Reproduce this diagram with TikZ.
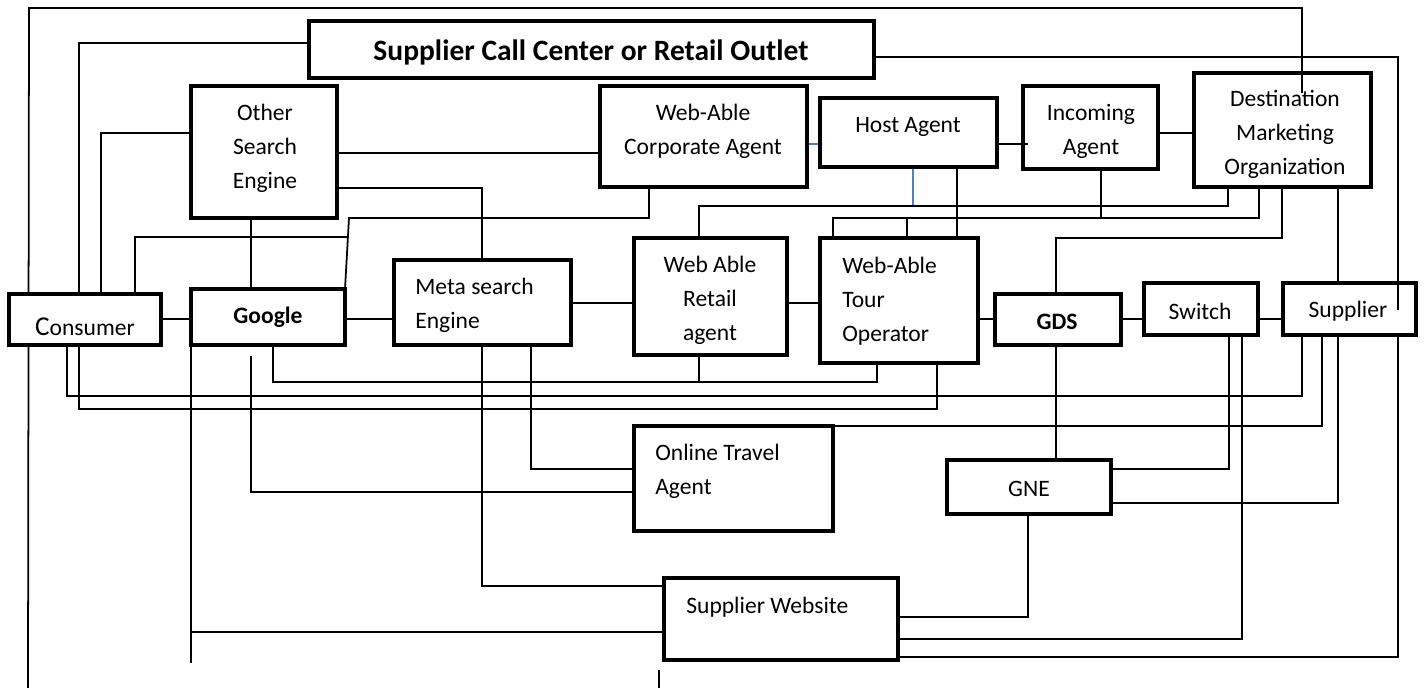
\documentclass[tikz,border=0pt]{standalone}
\usepackage{fontspec}
\setmainfont{Carlito}
\usetikzlibrary{fit,backgrounds}
\definecolor{lnblue}{HTML}{4F81BD}
\begin{document}
\begin{tikzpicture}[x=0.02cm,y=-0.02cm,
  box/.style={draw=black,line width=2.5pt,fill=white,inner sep=0pt,outer sep=0pt},
  con/.style={draw=black,line width=1pt},
  bcon/.style={draw=lnblue,line width=1pt},
  lbl/.style={font=\fontsize{13.4pt}{19.3pt}\selectfont,align=center,inner sep=0pt},
  lbll/.style={lbl,align=left,anchor=west},
  blbl/.style={font=\bfseries\fontsize{13.4pt}{19.3pt}\selectfont,inner sep=0pt},
  ]
\useasboundingbox (0,0) rectangle (1427,688);

% boxes
\node[box,fit={(309,21)(874,78)}] (scc) {};
\node[box,fit={(191,86)(337,218)}] (ose) {};
\node[box,fit={(600,86)(807,187)}] (waca) {};
\node[box,fit={(820,98)(997,167)}] (host) {};
\node[box,fit={(1023,86)(1158,169)}] (inc) {};
\node[box,fit={(1194,73)(1371,187)}] (dmo) {};
\node[box,fit={(9,294)(161,345)}] (cons) {};
\node[box,fit={(191,289)(345,345)}] (goog) {};
\node[box,fit={(394,260)(571,345)}] (meta) {};
\node[box,fit={(634,238)(787,355)}] (war) {};
\node[box,fit={(820,238)(978,363)}] (wato) {};
\node[box,fit={(995,294)(1121,345)}] (gds) {};
\node[box,fit={(1144,283)(1258,335)}] (swi) {};
\node[box,fit={(1283,283)(1416,335)}] (sup) {};
\node[box,fit={(634,426)(833,531)}] (ota) {};
\node[box,fit={(947,460)(1111,514)}] (gne) {};
\node[box,fit={(664,578)(898,660)}] (web) {};

% labels
\node[font=\bfseries\fontsize{16.8pt}{20pt}\selectfont,inner sep=0pt] (sccT) at (591,52) {Supplier Call Center or Retail Outlet};
\node[lbl] (oseT) at (265,148) {Other\\Search\\Engine};
\node[lbl] (wacaT) at (703,131) {Web-Able\\Corporate Agent};
\node[lbl] (hostT) at (908,127) {Host Agent};
\node[lbl] (incT) at (1091,131) {Incoming\\Agent};
\node[lbl] (dmoT) at (1285,134) {Destination\\Marketing\\Organization};
\node[lbl] (consT) at (85,327) {{\fontsize{15.5pt}{19pt}\selectfont C}onsumer};
\node[blbl] (googT) at (268,317) {Google};
\node[lbll] (metaT) at (415,305) {Meta search\\Engine};
\node[lbl] (warT) at (710,300) {Web Able\\Retail\\agent};
\node[lbll] (watoT) at (842,301) {Web-Able\\Tour\\Operator};
\node[blbl] (gdsT) at (1057,322) {GDS};
\node[lbl] (swiT) at (1200,311) {Switch};
\node[lbl] (supT) at (1348,311) {Supplier};
\node[lbll] (otaT) at (655,471) {Online Travel\\Agent};
\node[lbl] (gneT) at (1029,489) {GNE};
\node[lbll] (webT) at (686,607) {Supplier Website};

% free ends
\coordinate (fA) at (28,688);
\coordinate (fB) at (1302,93);
\coordinate (fC) at (1398,310);
\coordinate (fD) at (251,356);
\coordinate (fE) at (191,663);
\coordinate (fF) at (659,670);
\coordinate (fG) at (659,688);
\coordinate (fH) at (1028,144);

\begin{scope}[on background layer]
% outer frame line
\draw[con] (fA) -- (29,8) -- (1302,8) -- (fB);
% supplier call center
\draw[con] (scc.west |- 0,43) -- (79,43) -- (79,0 |- cons.north);
\draw[con] (scc.east |- 0,57) -- (1398,57) -- (fC);
\draw[con] (1398,0 |- sup.south) -- (1398,657) -- (web.east |- 0,657);
% other search engine
\draw[con] (ose.west |- 0,133) -- (101,133) -- (101,0 |- cons.north);
\draw[con] (ose.east |- 0,153) -- (waca.west |- 0,153);
\draw[con] (ose.east |- 0,188) -- (482,188) -- (482,0 |- meta.north);
\draw[con] (251,0 |- ose.south) -- (251,0 |- goog.north);
% corporate agent to google / consumer
\draw[con] (goog.north east) -- (349,218) -- (649,218) -- (649,0 |- waca.south);
\draw[con] (135,0 |- cons.north) -- (135,237) -- (348,237);
% middle row
\draw[con] (cons.east |- 0,319) -- (goog.west |- 0,319);
\draw[con] (goog.east |- 0,319) -- (meta.west |- 0,319);
\draw[con] (meta.east |- 0,303) -- (war.west |- 0,303);
\draw[con] (war.east |- 0,303) -- (wato.west |- 0,303);
\draw[con] (wato.east |- 0,319) -- (gds.west |- 0,319);
\draw[con] (gds.east |- 0,319) -- (swi.west |- 0,319);
\draw[con] (swi.east |- 0,319) -- (sup.west |- 0,319);
% top row
\draw[bcon] (waca.east |- 0,144) -- (host.west |- 0,144);
\draw[con] (inc.east |- 0,133) -- (dmo.west |- 0,133);
\draw[bcon] (913,0 |- host.south) -- (913,206);
\draw[con] (1228,0 |- dmo.south) -- (1228,206) -- (699,206) -- (699,0 |- war.north);
\draw[con] (957,0 |- host.south) -- (957,0 |- wato.north);
\draw[con] (1259,0 |- dmo.south) -- (1259,218) -- (833,218) -- (833,0 |- wato.north);
\draw[con] (907,218) -- (907,0 |- wato.north);
\draw[con] (1101,0 |- inc.south) -- (1101,218);
\draw[con] (1282,0 |- dmo.south) -- (1282,238) -- (1056,238) -- (1056,0 |- gds.north);
\draw[con] (1338,0 |- dmo.south) -- (1338,0 |- sup.north);
% lower connections
\draw[con] (273,0 |- goog.south) -- (273,382) -- (877,382) -- (877,0 |- wato.south);
\draw[con] (699,0 |- war.south) -- (699,382);
\draw[con] (67,0 |- cons.south) -- (67,396) -- (1302,396) -- (1302,0 |- sup.south);
\draw[con] (79,0 |- cons.south) -- (79,409) -- (937,409) -- (937,0 |- wato.south);
\draw[con] (ota.north east) -- (1322,426) -- (1322,0 |- sup.south);
\draw[con] (531,0 |- meta.south) -- (531,469) -- (ota.west |- 0,469);
\draw[con] (482,0 |- meta.south) -- (482,586) -- (web.west |- 0,586);
\draw[con] (fD) -- (251,492) -- (ota.west |- 0,492);
\draw[con] (191,0 |- goog.south) -- (fE);
\draw[con] (191,632) -- (web.west |- 0,632);
\draw[con] (fF) -- (fG);
\draw[con] (1056,0 |- gds.south) -- (1056,0 |- gne.north);
\draw[con] (1229,0 |- swi.south) -- (1229,469) -- (gne.east |- 0,469);
\draw[con] (1242,0 |- swi.south) -- (1242,639) -- (web.east |- 0,639);
\draw[con] (1338,0 |- sup.south) -- (1338,503) -- (gne.east |- 0,503);
\draw[con] (1028,0 |- gne.south) -- (1028,617) -- (web.east |- 0,617);
\end{scope}

% lines that run over box borders
\draw[con] (1302,60) -- (fB);
\draw[con] (1398,270) -- (fC);
\draw[con] (host.east |- 0,144) -- (fH);
\end{tikzpicture}
\end{document}
